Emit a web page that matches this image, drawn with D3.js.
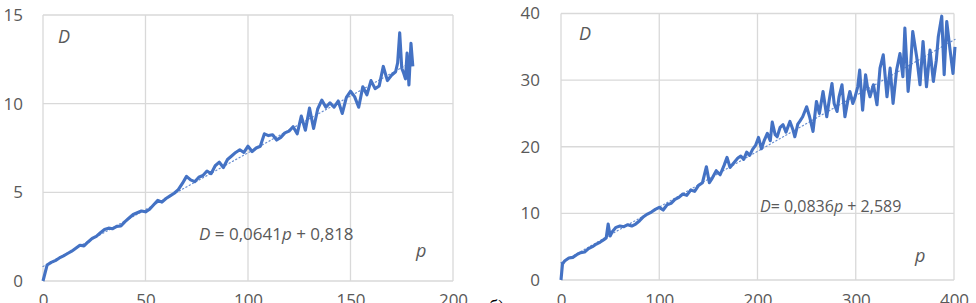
<!DOCTYPE html>
<html><head><meta charset="utf-8">
<script src="https://cdn.jsdelivr.net/npm/d3@7"></script>
<style>
html,body{margin:0;padding:0;background:#fff;}
svg{display:block;}
text{font-family:"Open Sans",sans-serif;}
</style></head>
<body>
<svg id="chart" width="976" height="303"></svg>
<script>
// ---- Left panel data ----
const pLeft = [0,2,4,6,8,10,12,14,16,18,20,22,24,26,28,30,32,34,36,38,40,42,44,46,48,50,52,54,56,58,60,62,64,66,68,70,72,74,76,78,80,82,84,86,88,90,92,94,96,98,100,102,104,106,108,110,112,114,116,118,120,122,124,126,128,130,132,134,136,138,140,142,144,146,148,150,152,154,156,158,160,162,164,166,168,170,171,172,173,174,175,176,176.8,177.6,178.5,179.5,180.4];
const dLeft = [0,0.9,1.05,1.15,1.3,1.42,1.55,1.68,1.85,2.02,1.98,2.2,2.4,2.52,2.72,2.9,2.98,2.95,3.08,3.1,3.35,3.55,3.75,3.85,3.95,3.9,4.05,4.3,4.55,4.45,4.65,4.8,4.95,5.15,5.5,5.9,5.7,5.6,5.85,5.95,6.2,6.05,6.5,6.7,6.4,6.85,7.05,7.25,7.4,7.25,7.6,7.3,7.5,7.6,8.3,8.2,8.25,7.95,8.1,8.35,8.45,8.7,8.3,9.3,8.5,9.75,8.6,9.7,10.2,9.8,10.05,9.8,10.15,9.45,10.35,10.7,10.4,9.8,10.95,10.5,11.3,10.85,11.0,12.1,11.3,11.6,11.7,11.8,12.3,14.0,12.0,11.7,11.4,12.85,11.05,13.4,12.1];
const xTicksLeft = [0,50,100,150,200];
const yTicksLeft = [0,5,10,15];
const trendLeft = {slope:0.0641, intercept:0.818};

// ---- Right panel data ----
const pRight = [0,1.5,4,8,12,16,20,24,28,32,36,40,44,46,48,50,52,56,60,64,68,72,76,80,84,88,92,96,100,104,108,112,116,120,124,128,132,136,140,144,148,151,154,158,162,166,169,172,176,180,183,186,189,192,195,198,201,204,207,210,213,215,218,220,223,226,229,233,236,238,241,243,246,250,253,256.5,260,263,266.7,270.5,273,275.8,278,281,283,286,289,292,294,297,299,302,304,307,310,312,314.5,318,321.6,324.7,328,331.8,335,338,341.6,345,348,350,353.3,356,358,362,365.4,368.5,372,375.6,379,382,384,387.5,390,392.6,396,399,401];
const dRight = [0,2.4,2.9,3.3,3.4,3.8,4.1,4.2,4.7,5.0,5.4,5.7,6.1,6.3,8.4,6.6,7.2,7.9,8.1,8.0,8.3,8.1,8.4,8.9,9.5,9.9,10.2,10.6,10.9,10.5,11.3,11.5,12.1,12.4,12.9,12.7,13.5,13.3,14.2,14.6,17.0,14.6,15.3,16.4,15.8,17.2,18.4,16.9,17.6,18.3,18.6,18.1,19.2,18.7,19.6,20.2,21.4,19.7,21.0,22.0,20.9,23.7,21.8,21.5,22.9,23.3,22.2,23.8,22.6,21.5,23.4,23.8,24.5,26.0,24.5,22.3,26.8,25.0,28.3,24.5,27.0,29.5,26.5,25.3,27.5,29.3,24.5,27.0,28.3,26.5,27.3,29.0,31.5,25.5,30.8,28.9,27.5,29.3,26.3,31.8,33.8,27.5,31.8,26.5,31.5,34.0,30.5,37.8,28.3,32.5,37.3,33.5,29.3,35.8,29.0,34.5,29.8,33.0,36.5,39.6,30.8,38.8,34.5,31.0,35.0];
const xTicksRight = [0,100,200,300,400];
const yTicksRight = [0,10,20,30,40];
const trendRight = {slope:0.0836, intercept:2.589};

const equationLeft = ["D"," = 0,0641","p"," + 0,818"];
const equationRight = ["D","= 0,0836","p"," + 2,589"];
const panelLabel = "б)";

const svg = d3.select("#chart");
const LINE = "#4472C4", GRID = "#d9d9d9", TXT = "#595959";

function panel(cfg){
  const x = d3.scaleLinear().domain(cfg.xDomain).range([cfg.left, cfg.right]);
  const y = d3.scaleLinear().domain(cfg.yDomain).range([cfg.bottom, cfg.top]);
  const g = svg.append("g");
  g.append("g").selectAll("line").data(cfg.yTicks).join("line")
    .attr("x1", cfg.left).attr("x2", cfg.right)
    .attr("y1", d=>y(d)).attr("y2", d=>y(d))
    .attr("stroke", GRID).attr("stroke-width", 1.3);
  g.append("g").selectAll("line").data(cfg.xTicks).join("line")
    .attr("x1", d=>x(d)).attr("x2", d=>x(d))
    .attr("y1", cfg.top).attr("y2", cfg.bottom)
    .attr("stroke", GRID).attr("stroke-width", 1.3);
  const ya = d3.axisLeft(y).tickValues(cfg.yTicks).tickSize(0).tickPadding(cfg.yPad);
  const yg = g.append("g").attr("transform", `translate(${cfg.left},0)`).call(ya);
  yg.select(".domain").remove();
  yg.selectAll("text").attr("fill", TXT).style("font-size","17px").style("font-family","'Open Sans',sans-serif");
  const xa = d3.axisBottom(x).tickValues(cfg.xTicks).tickSize(0).tickPadding(cfg.xPad);
  const xg = g.append("g").attr("transform", `translate(0,${cfg.bottom})`).call(xa);
  xg.select(".domain").remove();
  xg.selectAll("text").attr("fill", TXT).style("font-size","17px").style("font-family","'Open Sans',sans-serif");
  const [x0,x1] = d3.extent(cfg.p);
  g.append("line")
    .attr("x1", x(x0)).attr("y1", y(cfg.trend.slope*x0+cfg.trend.intercept))
    .attr("x2", x(x1)).attr("y2", y(cfg.trend.slope*x1+cfg.trend.intercept))
    .attr("stroke", LINE).attr("stroke-width", 1.2).attr("stroke-opacity", 0.8)
    .attr("stroke-dasharray","1.2,2.6").attr("stroke-linecap","round");
  const line = d3.line().x((d,i)=>x(cfg.p[i])).y(d=>y(d));
  g.append("path").datum(cfg.d).attr("d", line)
    .attr("fill","none").attr("stroke", LINE).attr("stroke-width", 3.1)
    .attr("stroke-linejoin","round");
  g.append("text").attr("x", cfg.dPos[0]).attr("y", cfg.dPos[1])
    .attr("fill", TXT).style("font-style","italic").style("font-size","18px").text("D");
  g.append("text").attr("x", cfg.pPos[0]).attr("y", cfg.pPos[1])
    .attr("fill", TXT).style("font-style","italic").style("font-size","18px").text("p");
  const eq = g.append("text").attr("x", cfg.eqPos[0]).attr("y", cfg.eqPos[1])
    .attr("fill", TXT).style("font-size", cfg.eqSize);
  cfg.eq.forEach((s,i)=>{
    eq.append("tspan").style("font-style", (i%2===0)?"italic":"normal").text(s);
  });
}

panel({xDomain:[0,200], yDomain:[0,15], left:43, right:453, top:15, bottom:281,
  xTicks:xTicksLeft, yTicks:yTicksLeft, yPad:20, xPad:13,
  p:pLeft, d:dLeft, trend:trendLeft,
  dPos:[58,43], pPos:[416,257], eqPos:[199,240], eq:equationLeft, eqSize:"17px"});

panel({xDomain:[0,400], yDomain:[0,40], left:561, right:954, top:13.5, bottom:280,
  xTicks:xTicksRight, yTicks:yTicksRight, yPad:21, xPad:14,
  p:pRight, d:dRight, trend:trendRight,
  dPos:[579,40], pPos:[915,262], eqPos:[760,212], eq:equationRight, eqSize:"16px"});

svg.append("text").attr("x", 489).attr("y", 313).attr("fill","#000")
  .style("font-size","18px").style("font-family","'Liberation Serif',serif").text(panelLabel);
</script>
</body></html>
